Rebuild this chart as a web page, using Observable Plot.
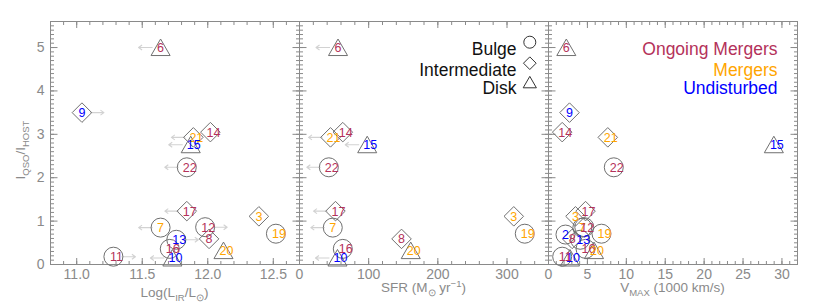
<!DOCTYPE html>
<html><head><meta charset="utf-8">
<script src="https://cdn.jsdelivr.net/npm/d3@7"></script>
<script src="https://cdn.jsdelivr.net/npm/@observablehq/plot@0.6"></script>
<style>
html,body{margin:0;padding:0;background:#fff;}
#chart{display:flex;width:830px;height:304px;}
#chart svg{overflow:visible;display:block;flex:none;max-width:none;}
</style></head><body><div id="chart"></div>
<script>
// ---- data ----
const ids = [6, 9, 21, 14, 15, 22, 17, 7, 12, 8, 13, 16, 10, 11, 20, 3, 19, 2];
const status = ["Ongoing Mergers","Undisturbed","Mergers","Ongoing Mergers","Undisturbed","Ongoing Mergers","Ongoing Mergers","Mergers","Ongoing Mergers","Ongoing Mergers","Undisturbed","Ongoing Mergers","Undisturbed","Ongoing Mergers","Mergers","Mergers","Mergers","Undisturbed"];
const morphology = ["Disk","Intermediate","Intermediate","Intermediate","Disk","Bulge","Intermediate","Bulge","Bulge","Intermediate","Bulge","Bulge","Disk","Bulge","Disk","Intermediate","Bulge","Bulge"];
const qsoHostRatio = [5.0, 3.50, 2.93, 3.05, 2.76, 2.24, 1.23, 0.85, 0.86, 0.59, 0.57, 0.36, 0.15, 0.18, 0.32, 1.11, 0.71, 0.69];
const logLIR = [11.64, 11.04, 11.89, 12.02, 11.87, 11.84, 11.84, 11.64, 11.98, 12.01, 11.76, 11.71, 11.73, 11.28, 12.12, 12.39, 12.52, null];
const logLIRLimit = [-1, 1, -1, 0, -1, -1, -1, -1, 1, 0, 1, 0, -1, 1, 0, 0, 0, 0];
const sfr = [55.7, null, 44.8, 62.6, 97.9, 42.4, 52.0, 48.1, null, 147.5, null, 62.6, 54.9, null, 160.8, 309.8, 325.7, null];
const sfrLimit = [-1, 0, -1, 0, -1, -1, -1, -1, 0, 0, 0, 0, -1, 0, 0, 0, 0, 0];
const vmax = [2.29, 2.70, 7.62, 1.76, 28.96, 8.39, 4.76, 4.35, 4.6, 3.04, 4.07, 4.76, 2.76, 1.76, 5.85, 3.47, 6.81, 2.18];

const lirTicks = [11.0, 11.5, 12.0, 12.5];
const sfrTicks = [0, 100, 200, 300];
const vmaxTicks = [0, 5, 10, 15, 20, 25, 30];
const ratioTicks = [0, 1, 2, 3, 4, 5];
const legendMorph = ["Bulge", "Intermediate", "Disk"];
const legendStatus = ["Ongoing Mergers", "Mergers", "Undisturbed"];
const statusColors = ["#b4325a", "#ffa500", "#0000ff"];

// ---- styling ----
const FONT = "'Liberation Sans', Arial, sans-serif";
const AXIS = "#8a8a8a";
const MARK = "#707070";
const ARROW = "#d2d2d2";

const rows = ids.map((id, i) => ({
  id, status: status[i], morph: morphology[i], y: qsoHostRatio[i],
  lir: logLIR[i], lirLim: logLIRLimit[i], sfr: sfr[i], sfrLim: sfrLimit[i], vmax: vmax[i]
}));

const tickShape = {draw(ctx, l) { ctx.moveTo(0, 0); ctx.lineTo(0, -l); }};
const arrowShape = {draw(ctx, l) {
  ctx.moveTo(0, 0); ctx.lineTo(0, -l);
  ctx.moveTo(-2.5, 3.5 - l); ctx.lineTo(0, -l); ctx.lineTo(2.5, 3.5 - l);
}};

function ticks(vals, len, axis) {
  const common = {length: len, anchor: "start", shape: tickShape, stroke: AXIS, strokeWidth: 1, strokeLinecap: "butt"};
  if (axis === "x") return [
    Plot.vector(vals, {x: d => d, frameAnchor: "bottom", rotate: 0, ...common}),
    Plot.vector(vals, {x: d => d, frameAnchor: "top", rotate: 180, ...common})
  ];
  return [
    Plot.vector(vals, {y: d => d, frameAnchor: "left", rotate: 90, ...common}),
    Plot.vector(vals, {y: d => d, frameAnchor: "right", rotate: -90, ...common})
  ];
}

function panel({key, limKey, domain, width, marginLeft, marginRight, major, minor, fmt, yLabels, legend}) {
  const d = rows.filter(r => r[key] != null);
  const marks = [
    ...ticks(minor, 3.5, "x"), ...ticks(major, 6.5, "x"),
    ...ticks(d3.range(0, 57).map(v => v / 10), 3.5, "y"), ...ticks(ratioTicks, 7, "y"),
    Plot.frame({stroke: AXIS, strokeWidth: 1}),
    Plot.text(major, {x: v => v, frameAnchor: "bottom", dy: 14, text: fmt, fill: AXIS, fontSize: 14})
  ];
  if (yLabels) marks.push(Plot.text(ratioTicks, {y: v => v, frameAnchor: "left", dx: -6, textAnchor: "end", text: v => String(v), fill: AXIS, fontSize: 14}));
  if (limKey) {
    const arrowOpts = {x: key, y: "y", length: 14, anchor: "start", shape: arrowShape, stroke: ARROW, strokeWidth: 1.1, strokeLinecap: "butt"};
    marks.push(Plot.vector(d.filter(r => r[limKey] === -1), {...arrowOpts, rotate: -90, dx: -8}));
    marks.push(Plot.vector(d.filter(r => r[limKey] === 1), {...arrowOpts, rotate: 90, dx: 8}));
  }
  marks.push(
    Plot.dot(d.filter(r => r.morph === "Bulge"), {x: key, y: "y", symbol: "circle", r: 9.5, stroke: MARK, strokeWidth: 1, fill: "none"}),
    Plot.dot(d.filter(r => r.morph === "Intermediate"), {x: key, y: "y", symbol: "diamond2", r: 8.8, stroke: MARK, strokeWidth: 1, fill: "none"}),
    Plot.dot(d.filter(r => r.morph === "Disk"), {x: key, y: "y", symbol: "triangle2", r: 9.1, dy: 2.5, stroke: MARK, strokeWidth: 1, fill: "none"}),
    Plot.text(d.filter(r => r.id < 10), {x: key, y: "y", text: r => String(r.id), fill: "status", fontSize: 12.5, dy: 0.5}),
    Plot.text(d.filter(r => r.id >= 10), {x: key, y: "y", text: r => String(r.id), fill: "status", fontSize: 12.5, dx: 3, dy: 0.5})
  );
  if (legend === "morph") {
    const syms = ["circle", "diamond2", "triangle2"];
    const rs = [6, 5.7, 6.3];
    const dys = [20.7, 41.7, 60.5];
    const symDy = [20.7, 41.7, 62.5];
    legendMorph.forEach((name, i) => {
      marks.push(Plot.text([name], {frameAnchor: "top-right", dx: -32, dy: dys[i], textAnchor: "end", text: v => v, fill: "#111", fontSize: 17.5}));
      marks.push(Plot.dot([name], {frameAnchor: "top-right", dx: -18.7, dy: symDy[i], symbol: syms[i], r: rs[i], stroke: "#333", strokeWidth: 1, fill: "none"}));
    });
  }
  if (legend === "status") {
    const dys = [20.7, 41.7, 60.5];
    legendStatus.forEach((name, i) => {
      marks.push(Plot.text([name], {frameAnchor: "top-right", dx: -20, dy: dys[i], textAnchor: "end", text: v => v, fill: v => v, fontSize: 17.5}));
    });
  }
  return Plot.plot({
    width, height: 304, marginLeft, marginRight, marginTop: 21, marginBottom: 40,
    style: {fontFamily: FONT, background: "transparent", overflow: "visible"},
    x: {domain, axis: null},
    y: {domain: [0, 5.6], axis: null},
    color: {domain: legendStatus, range: statusColors},
    marks
  });
}

function addTitle(svg, x, y, parts, rotate) {
  const t = d3.select(svg).append("text")
    .attr("fill", AXIS).attr("font-size", 13.5).attr("text-anchor", "middle")
    .attr("font-family", FONT);
  if (rotate) t.attr("transform", `translate(${x},${y}) rotate(-90)`);
  else t.attr("x", x).attr("y", y);
  let prev = 0;
  for (const [s, kind] of parts) {
    const dy = kind === "sub" ? 3.5 : kind === "sup" ? -5 : 0;
    t.append("tspan").attr("dy", dy - prev).attr("font-size", kind ? 9.5 : 13.5).text(s);
    prev = dy;
  }
}

const chart = document.getElementById("chart");
const p1 = panel({key: "lir", limKey: "lirLim", domain: [10.8, 12.7], width: 299, marginLeft: 50, marginRight: 0,
  major: lirTicks, minor: d3.range(108, 128).map(v => v / 10), fmt: v => v.toFixed(1), yLabels: true});
const p2 = panel({key: "sfr", limKey: "sfrLim", domain: [0, 360], width: 249, marginLeft: 0, marginRight: 0,
  major: sfrTicks, minor: d3.range(0, 361, 20), fmt: v => String(v), legend: "morph"});
const p3 = panel({key: "vmax", limKey: null, domain: [0, 32], width: 282, marginLeft: 0, marginRight: 33,
  major: vmaxTicks, minor: d3.range(0, 33), fmt: v => String(v), legend: "status"});
chart.append(p1, p2, p3);

addTitle(p1, 174.5, 297, [["Log(L"], ["IR", "sub"], ["/L"], ["\u2299", "sub"], [")"]]);
addTitle(p2, 124.5, 292, [["SFR (M"], ["\u2299", "sub"], [" yr"], ["\u22121", "sup"], [")"]]);
addTitle(p3, 124.5, 292, [["V"], ["MAX", "sub"], [" (1000 km/s)"]]);
addTitle(p1, 25, 150, [["I"], ["QSO", "sub"], ["/I"], ["HOST", "sub"]], true);
</script></body></html>
